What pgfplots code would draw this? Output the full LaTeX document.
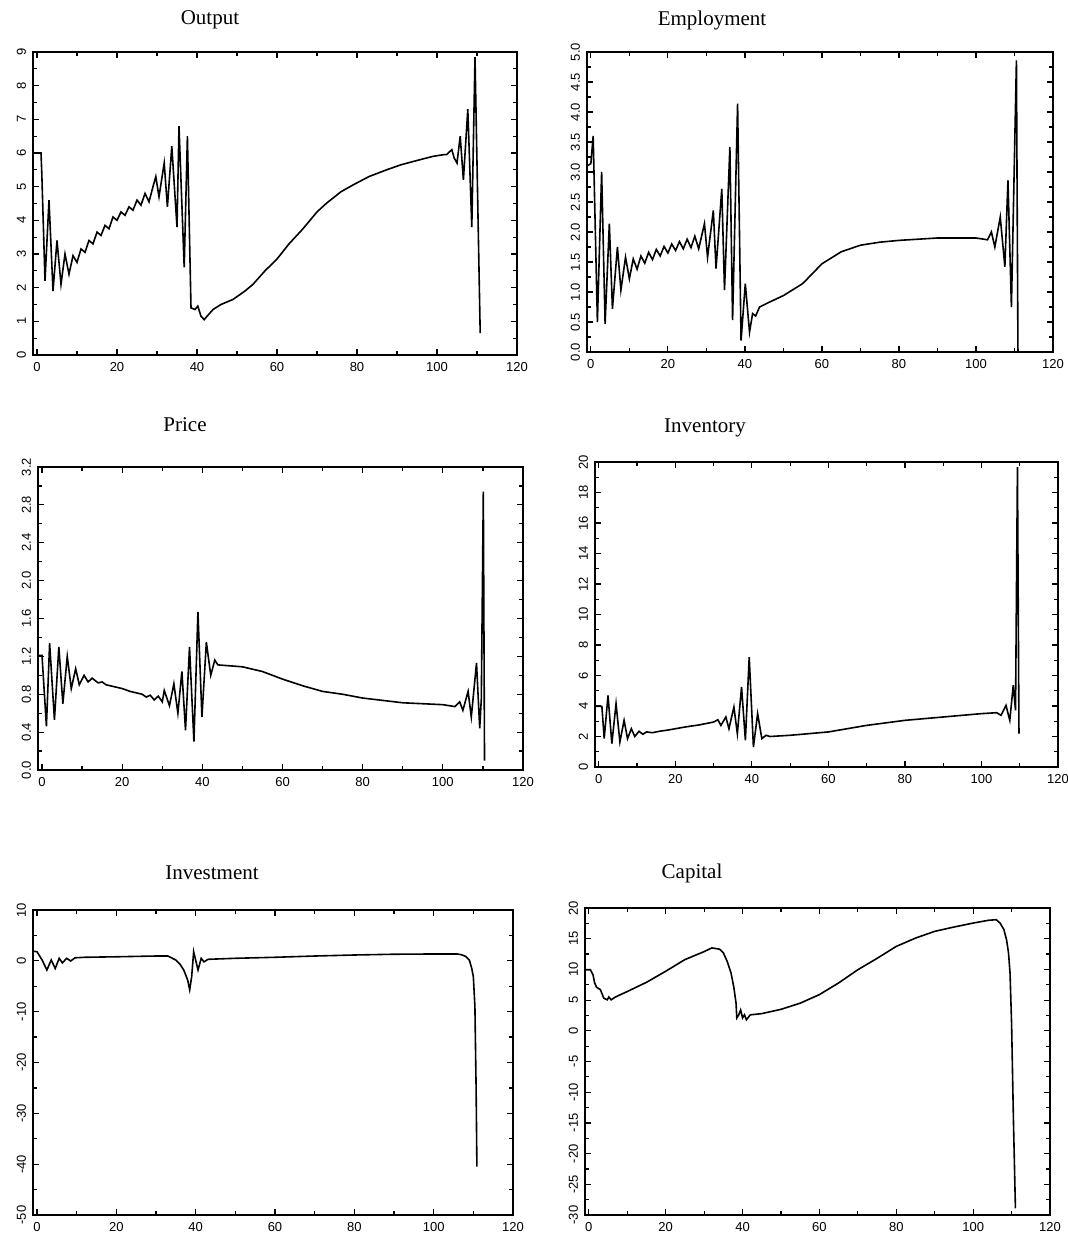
\documentclass[border=0pt]{standalone}
\usepackage{fontspec}
\setmainfont{Liberation Serif}
\newfontfamily\ticksf{Liberation Sans}
\usepackage{pgfplots}
\pgfplotsset{compat=1.18}

\pgfplotsset{
  panel/.style={
    scale only axis,
    anchor=north west,
    xmin=-1, xmax=120,
    xtick={0,20,...,120},
    minor x tick num=1,
    minor y tick num=1,
    tick align=inside,
    axis line style={line width=1pt},
    tick style={line width=0.6pt, black},
    major tick length=3pt,
    minor tick length=2pt,
    /pgf/number format/assume math mode=true,
    tick label style={font=\ticksf\fontsize{6.5}{7}\selectfont},
    yticklabel style={rotate=90, anchor=south},
    scaled y ticks=false,
  },
  curve/.style={black, line width=0.8pt, no marks},
}

\begin{document}
\begin{tikzpicture}
\path[use as bounding box] (0,0) rectangle (534pt,-618pt);

\node[font=\fontsize{10.5}{12}\selectfont] at (105pt,-10pt) {Output};
\node[font=\fontsize{10.5}{12}\selectfont] at (356pt,-10pt) {Employment};
\node[font=\fontsize{10.5}{12}\selectfont] at (92.5pt,-212.5pt) {Price};
\node[font=\fontsize{10.5}{12}\selectfont] at (352.5pt,-214pt) {Inventory};
\node[font=\fontsize{10.5}{12}\selectfont] at (106pt,-436.5pt) {Investment};
\node[font=\fontsize{10.5}{12}\selectfont] at (346pt,-436.5pt) {Capital};

% Output
\begin{axis}[panel, at={(16.5pt,-26pt)}, width=242pt, height=151.5pt,
  ymin=0, ymax=9, ytick={0,1,...,9}]
\addplot[curve] coordinates {
(-1,6) (0,6) (1,6) (1.2,5.4) (2,2.2) (3,4.6) (4,1.9) (5,3.4) (6,2.1) (7,3.0)
(8,2.4) (9,2.95) (10,2.75) (11,3.15) (12,3.05) (13,3.4) (14,3.3) (15,3.65)
(16,3.55) (17,3.85) (18,3.75) (19,4.1) (20,4.0) (21,4.25) (22,4.15) (23,4.4)
(24,4.3) (25,4.6) (26,4.45) (27,4.8) (28,4.55) (29,5.0) (29.7,5.3) (30.5,4.7)
(31.8,5.7) (32.6,4.4) (33.7,6.2) (35,3.8) (35.5,6.8) (36.8,2.6) (37.6,6.5)
(38.5,1.4) (39.5,1.35) (40.2,1.45) (41,1.15) (41.8,1.05) (42.5,1.15) (44,1.35)
(46,1.5) (49,1.65) (52,1.9) (54,2.1) (57,2.5) (60,2.85) (63,3.3) (66.5,3.75)
(70,4.25) (72.3,4.5) (76,4.85) (79,5.05) (83,5.3) (87.4,5.5) (91,5.65)
(95.7,5.8) (99,5.9) (101.6,5.95) (102.4,5.95) (103.7,6.1) (104.3,5.85)
(105,5.7) (105.8,6.5) (106.6,5.2) (107.7,7.3) (108.7,3.8) (109.5,8.85) (110.8,0.65)
};
\end{axis}

% Employment
\begin{axis}[panel, at={(293.5pt,-26pt)}, width=233pt, height=150pt,
  ymin=0, ymax=5, ytick={0,0.5,...,5},
  yticklabel style={/pgf/number format/.cd, fixed, fixed zerofill, precision=1}]
\addplot[curve] coordinates {
(-1,3.1) (0,3.14) (0.6,3.6) (1.7,0.5) (2.8,3.0) (3.7,0.47) (4.8,2.14) (5.6,0.72)
(6.9,1.75) (7.8,1.03) (9,1.58) (10,1.22) (11,1.55) (12,1.38) (13,1.6) (14,1.48)
(15,1.66) (16,1.54) (17,1.71) (18,1.6) (19,1.76) (20,1.65) (21,1.8) (22,1.69)
(23,1.84) (24,1.72) (25,1.88) (26,1.74) (27,1.93) (28,1.72) (29.5,2.14) (30.3,1.58)
(31.8,2.36) (32.5,1.39) (34,2.72) (34.7,1.03) (36.1,3.42) (36.8,0.53) (38.1,4.14)
(39,0.19) (40.1,1.14) (41.2,0.33) (42,0.64) (42.8,0.6) (43.8,0.75) (46,0.82)
(50,0.94) (55,1.14) (60,1.47) (65,1.67) (70,1.78) (75,1.83) (80,1.86) (90,1.9)
(100,1.9) (103,1.87) (104,2.0) (104.9,1.75) (106.3,2.25) (107.5,1.42) (108.3,2.86)
(109.2,0.75) (110.5,4.86) (110.9,0)
};
\end{axis}

% Price
\begin{axis}[panel, at={(19pt,-233.5pt)}, width=242.5pt, height=151.5pt,
  ymin=0, ymax=3.2, ytick={0,0.4,...,3.2},
  yticklabel style={/pgf/number format/.cd, fixed, fixed zerofill, precision=1}]
\addplot[curve] coordinates {
(-1,1.21) (0,1.21) (1.1,0.46) (1.9,1.34) (3.1,0.53) (4.2,1.3) (5.2,0.70) (6.3,1.2)
(7.3,0.86) (8.4,1.07) (9.3,0.9) (10.5,1.0) (11.5,0.93) (12.5,0.97) (14,0.92)
(15,0.93) (16,0.9) (18,0.88) (20,0.86) (22,0.83) (24,0.81) (25,0.8) (26,0.77)
(27,0.79) (28,0.74) (29,0.78) (30,0.72) (30.5,0.84) (31.8,0.68) (32.9,0.91)
(33.9,0.6) (34.9,1.04) (35.8,0.42) (36.8,1.3) (37.9,0.3) (38.9,1.67) (39.9,0.56)
(41,1.35) (42.1,1.0) (43.1,1.16) (43.9,1.11) (50,1.09) (55,1.04) (60,0.96)
(65,0.89) (70,0.83) (75,0.8) (80,0.76) (90,0.71) (100,0.69) (103,0.67)
(104.2,0.72) (105,0.63) (106.3,0.83) (107.1,0.56) (108.4,1.13) (109.2,0.44)
(109.6,0.75) (110.1,2.94) (110.4,0.1)
};
\end{axis}

% Inventory
\begin{axis}[panel, at={(297.5pt,-231pt)}, width=231.5pt, height=152.5pt,
  ymin=0, ymax=20, ytick={0,2,...,20}]
\addplot[curve] coordinates {
(-1,3.98) (0,3.98) (0.8,3.98) (1.4,1.86) (2.4,4.7) (3.4,1.53) (4.5,4.15) (5.5,1.64)
(6.6,3.06) (7.5,1.86) (8.5,2.51) (9.4,2.0) (10.5,2.34) (11.5,2.15) (12.5,2.3)
(14,2.25) (16,2.35) (18,2.42) (20,2.51) (22,2.6) (24,2.68) (26,2.75) (28,2.85)
(30,2.95) (31.1,3.1) (31.9,2.73) (33.2,3.28) (34,2.51) (35.3,3.93) (36.2,2.19)
(37.3,5.25) (38.3,1.75) (39.3,7.21) (40.4,1.31) (41.5,3.5) (42.6,1.86) (43.7,2.08)
(44.7,2.0) (50,2.08) (60,2.3) (70,2.73) (80,3.06) (90,3.28) (100,3.5) (104,3.56)
(105.1,3.39) (106.4,4.04) (107.4,3.06) (108.3,5.36) (108.9,3.72) (109.4,19.67)
(109.8,2.19)
};
\end{axis}

% Investment
\begin{axis}[panel, at={(16.5pt,-455pt)}, width=240pt, height=152.5pt,
  ymin=-50, ymax=10, ytick={-50,-40,...,10}]
\addplot[curve] coordinates {
(-1,1.9) (0,1.8) (1.3,0.16) (2.5,-1.8) (3.6,0.16) (4.6,-1.5) (5.6,0.5) (6.4,-0.4)
(7.5,0.5) (8.5,-0.03) (9.6,0.6) (12,0.7) (20,0.8) (30,0.95) (33,0.95) (35,0.16)
(36,-0.6) (37,-1.8) (38,-3.8) (38.5,-5.7) (39,-3.1) (39.5,1.8) (40.6,-1.8)
(41.4,0.5) (42.1,-0.2) (43.1,0.3) (50,0.5) (60,0.7) (70,0.95) (80,1.15) (90,1.3)
(100,1.35) (106,1.35) (107,1.2) (108,0.9) (109,0.16) (109.6,-1.5) (110,-3.1)
(110.4,-9) (110.7,-25) (110.9,-40.5)
};
\end{axis}

% Capital
\begin{axis}[panel, at={(292.5pt,-454pt)}, width=232.5pt, height=153.5pt,
  ymin=-30, ymax=20, ytick={-30,-25,...,20}]
\addplot[curve] coordinates {
(-1,9.95) (0,9.95) (0.4,9.95) (1.1,9.1) (1.5,7.8) (2,7.1) (3,6.7) (3.9,5.3)
(4.8,5.05) (5.2,5.5) (5.8,5.05) (6.9,5.5) (10,6.4) (15,7.9) (20,9.7) (25,11.6)
(30,12.9) (32,13.5) (34,13.3) (35,12.7) (36,11.3) (37,9.4) (37.7,7.2) (38.3,4.5)
(38.5,2.1) (39,2.6) (39.5,3.4) (40,2.1) (40.5,2.6) (41,1.8) (42,2.6) (45,2.8)
(50,3.5) (55,4.5) (60,5.9) (65,7.8) (70,9.95) (75,11.8) (80,13.75) (85,15.1)
(90,16.2) (95,16.9) (100,17.55) (104,18.0) (106,18.1) (107,17.55) (108,16.5)
(108.7,14.8) (109.2,12.7) (109.6,9.4) (110,1.25) (110.5,-15.05) (111,-28.9)
};
\end{axis}
\end{tikzpicture}
\end{document}
